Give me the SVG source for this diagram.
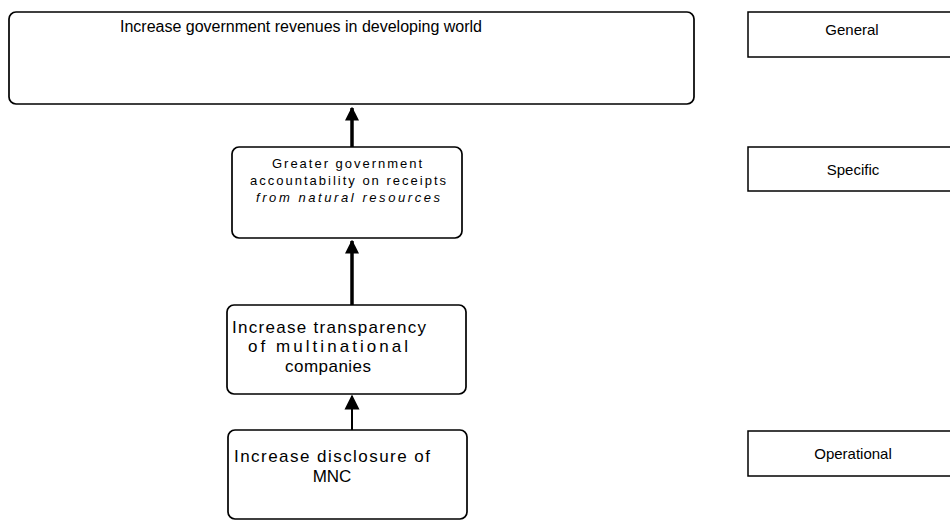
<svg xmlns="http://www.w3.org/2000/svg" width="950" height="522" viewBox="0 0 950 522">
  <defs>
    <marker id="head" viewBox="0 0 10 10" refX="9" refY="5" markerWidth="4" markerHeight="4.2" markerUnits="strokeWidth" orient="auto">
      <path d="M0,0 L10,5 L0,10 z" fill="#000"/>
    </marker>
    <marker id="headThin" viewBox="0 0 10 10" refX="9" refY="5" markerWidth="7.5" markerHeight="8" markerUnits="strokeWidth" orient="auto">
      <path d="M0,0 L10,5 L0,10 z" fill="#000"/>
    </marker>
  </defs>
  <style>
    .box { fill: #fff; stroke: #000; stroke-width: 1.7; }
    .lvl { fill: #fff; stroke: #000; stroke-width: 1.5; }
    text { font-family: "Liberation Sans", Arial, sans-serif; fill: #000; text-anchor: middle; }
    .t16 { font-size: 16px; }
    .t17 { font-size: 17px; }
    .t13 { font-size: 13px; }
    .t15 { font-size: 15px; }
    .it { font-style: italic; }
    .arrow { stroke: #000; fill: none; }
  </style>
  <rect width="950" height="522" fill="#fff"/>

  <g id="connectors">
    <line class="arrow" x1="352" y1="147" x2="352" y2="108" stroke-width="3.5" marker-end="url(#head)"/>
    <line class="arrow" x1="352" y1="305" x2="352" y2="241" stroke-width="3.5" marker-end="url(#head)"/>
    <line class="arrow" x1="352" y1="430" x2="352" y2="396" stroke-width="2" marker-end="url(#headThin)"/>
  </g>

  <g id="goal-general">
    <rect class="box" x="9" y="12" width="685" height="92" rx="7"/>
    <text class="t16" x="301" y="32" textLength="362" lengthAdjust="spacing">Increase government revenues in developing world</text>
  </g>

  <g id="goal-specific">
    <rect class="box" x="232" y="147" width="230" height="91" rx="7"/>
    <text class="t13" x="347" y="168" textLength="150" lengthAdjust="spacing">Greater government</text>
    <text class="t13" x="348" y="185" textLength="196" lengthAdjust="spacing">accountability on receipts</text>
    <text class="t13 it" x="348" y="202" textLength="184" lengthAdjust="spacing">from natural resources</text>
  </g>

  <g id="goal-transparency">
    <rect class="box" x="227" y="305" width="239" height="89" rx="7"/>
    <text class="t17" x="329" y="333" textLength="194" lengthAdjust="spacing">Increase transparency</text>
    <text class="t17" x="328" y="352" textLength="160" lengthAdjust="spacing">of multinational</text>
    <text class="t17" x="328" y="372" textLength="86" lengthAdjust="spacing">companies</text>
  </g>

  <g id="goal-disclosure">
    <rect class="box" x="228" y="430" width="239" height="89" rx="7"/>
    <text class="t17" x="332" y="462" textLength="196" lengthAdjust="spacing">Increase disclosure of</text>
    <text class="t17" x="332" y="482">MNC</text>
  </g>

  <g id="level-general">
    <rect class="lvl" x="748" y="12" width="220" height="45"/>
    <text class="t15" x="852" y="35">General</text>
  </g>

  <g id="level-specific">
    <rect class="lvl" x="748" y="147" width="220" height="44"/>
    <text class="t15" x="853" y="175">Specific</text>
  </g>

  <g id="level-operational">
    <rect class="lvl" x="748" y="431" width="220" height="45"/>
    <text class="t15" x="853" y="459">Operational</text>
  </g>
</svg>
